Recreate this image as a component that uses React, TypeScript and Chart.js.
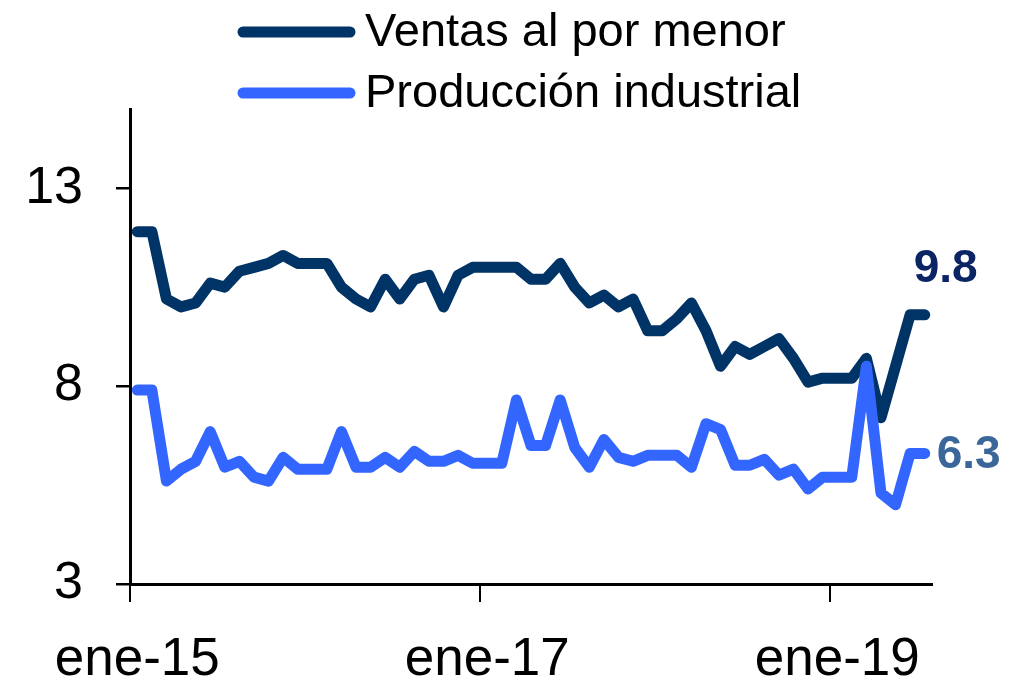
import React, { useEffect, useRef } from 'react';
import { Chart, registerables } from 'chart.js';

Chart.register(...registerables);

// Monthly categories, ene-15 .. jul-19
const categories: string[] = [
  'ene-15', 'feb-15', 'mar-15', 'abr-15', 'may-15', 'jun-15', 'jul-15', 'ago-15', 'sep-15', 'oct-15', 'nov-15', 'dic-15',
  'ene-16', 'feb-16', 'mar-16', 'abr-16', 'may-16', 'jun-16', 'jul-16', 'ago-16', 'sep-16', 'oct-16', 'nov-16', 'dic-16',
  'ene-17', 'feb-17', 'mar-17', 'abr-17', 'may-17', 'jun-17', 'jul-17', 'ago-17', 'sep-17', 'oct-17', 'nov-17', 'dic-17',
  'ene-18', 'feb-18', 'mar-18', 'abr-18', 'may-18', 'jun-18', 'jul-18', 'ago-18', 'sep-18', 'oct-18', 'nov-18', 'dic-18',
  'ene-19', 'feb-19', 'mar-19', 'abr-19', 'may-19', 'jun-19', 'jul-19',
];

const ventas: number[] = [
  11.9, 11.9, 10.2, 10.0, 10.1, 10.6, 10.5, 10.9, 11.0, 11.1, 11.3, 11.1,
  11.1, 11.1, 10.5, 10.2, 10.0, 10.7, 10.2, 10.7, 10.8, 10.0, 10.8, 11.0,
  11.0, 11.0, 11.0, 10.7, 10.7, 11.1, 10.5, 10.1, 10.3, 10.0, 10.2, 9.4,
  9.4, 9.7, 10.1, 9.4, 8.5, 9.0, 8.8, 9.0, 9.2, 8.7, 8.1, 8.2,
  8.2, 8.2, 8.7, 7.2, 8.5, 9.8, 9.8,
];

const produccion: number[] = [
  7.9, 7.9, 5.6, 5.9, 6.1, 6.85, 5.95, 6.1, 5.7, 5.6, 6.2, 5.9,
  5.9, 5.9, 6.85, 5.95, 5.95, 6.2, 5.95, 6.35, 6.1, 6.1, 6.25, 6.05,
  6.05, 6.05, 7.65, 6.5, 6.5, 7.65, 6.45, 5.95, 6.65, 6.2, 6.1, 6.25,
  6.25, 6.25, 5.95, 7.05, 6.9, 6.0, 6.0, 6.15, 5.75, 5.9, 5.4, 5.7,
  5.7, 5.7, 8.5, 5.3, 5.0, 6.3, 6.3,
];

const seriesNames: string[] = ['Ventas al por menor', 'Producción industrial'];
const xTickLabels: string[] = ['ene-15', 'ene-17', 'ene-19'];
const yTickValues: number[] = [3, 8, 13];
const yMin = 3;
const yMax = 15;

const NAVY = '#003366';
const BLUE = '#3366FF';
const LABEL_NAVY = '#0B2463';
const LABEL_STEEL = '#3B6699';
const FONT = "'Liberation Sans', Arial, sans-serif";

const legendPlugin = {
  id: 'customLegend',
  afterDraw(chart: any) {
    const ctx = chart.ctx;
    const rows = [32, 93];
    const colors = [NAVY, BLUE];
    ctx.save();
    seriesNames.forEach((name, i) => {
      const y = rows[i];
      ctx.strokeStyle = colors[i];
      ctx.lineWidth = 11;
      ctx.lineCap = 'round';
      ctx.beginPath();
      ctx.moveTo(243, y);
      ctx.lineTo(350, y);
      ctx.stroke();
      ctx.fillStyle = '#000';
      ctx.font = `47px ${FONT}`;
      ctx.textAlign = 'left';
      ctx.textBaseline = 'middle';
      ctx.fillText(name, 365, y + 1);
    });
    ctx.restore();
  },
};

const valueLabelPlugin = {
  id: 'valueLabels',
  afterDatasetsDraw(chart: any) {
    const ctx = chart.ctx;
    ctx.save();
    ctx.font = `bold 46px ${FONT}`;
    ctx.textBaseline = 'middle';
    const m0 = chart.getDatasetMeta(0);
    const p0 = m0.data[m0.data.length - 1];
    ctx.fillStyle = LABEL_NAVY;
    ctx.textAlign = 'center';
    ctx.fillText(ventas[ventas.length - 1].toFixed(1), p0.x + 21, p0.y - 46);
    const m1 = chart.getDatasetMeta(1);
    const p1 = m1.data[m1.data.length - 1];
    ctx.fillStyle = LABEL_STEEL;
    ctx.textAlign = 'left';
    ctx.fillText(produccion[produccion.length - 1].toFixed(1), p1.x + 12, p1.y + 2);
    ctx.restore();
  },
};

export default function App() {
  const ref = useRef<HTMLCanvasElement | null>(null);

  useEffect(() => {
    if (!ref.current) return;
    const chart = new Chart(ref.current, {
      type: 'line',
      data: {
        labels: categories,
        datasets: [
          {
            label: seriesNames[0],
            data: ventas,
            borderColor: NAVY,
            backgroundColor: NAVY,
            borderWidth: 11,
            pointRadius: 0,
            pointHoverRadius: 0,
            borderCapStyle: 'round',
            borderJoinStyle: 'round',
            tension: 0,
            order: 1,
          },
          {
            label: seriesNames[1],
            data: produccion,
            borderColor: BLUE,
            backgroundColor: BLUE,
            borderWidth: 11,
            pointRadius: 0,
            pointHoverRadius: 0,
            borderCapStyle: 'round',
            borderJoinStyle: 'round',
            tension: 0,
            order: 0,
          },
        ],
      },
      options: {
        animation: false,
        responsive: true,
        maintainAspectRatio: false,
        layout: { padding: { top: 109, right: 83, left: 0, bottom: 0 } },
        plugins: {
          legend: { display: false },
          tooltip: { enabled: false },
        },
        scales: {
          x: {
            type: 'category',
            offset: true,
            afterFit: (scale: any) => {
              scale.height = 102;
            },
            grid: {
              offset: true,
              drawOnChartArea: false,
              drawTicks: true,
              tickLength: 18,
              lineWidth: 2,
              color: (c: any) =>
                c && typeof c.index === 'number' && xTickLabels.includes(categories[c.index])
                  ? '#000'
                  : 'rgba(0,0,0,0)',
            },
            border: { display: true, color: '#000', width: 3 },
            ticks: {
              autoSkip: false,
              maxRotation: 0,
              minRotation: 0,
              padding: 27,
              color: '#000',
              font: { family: FONT, size: 53 },
              callback: (_v: any, i: number) => (xTickLabels.includes(categories[i]) ? categories[i] : ''),
            },
          },
          y: {
            type: 'linear',
            min: yMin,
            max: yMax,
            afterFit: (scale: any) => {
              scale.width = 130;
            },
            afterBuildTicks: (scale: any) => {
              scale.ticks = yTickValues.map((v) => ({ value: v }));
            },
            grid: {
              drawOnChartArea: false,
              drawTicks: true,
              tickLength: 14,
              lineWidth: 2.5,
              color: '#000',
            },
            border: { display: true, color: '#000', width: 3 },
            ticks: {
              padding: 33,
              color: '#000',
              font: { family: FONT, size: 52 },
              callback: (v: any) => String(v),
            },
          },
        },
      },
      plugins: [legendPlugin, valueLabelPlugin],
    } as any);
    return () => chart.destroy();
  }, []);

  return (
    <div style={{ position: 'fixed', left: 0, top: 0, width: 1015, height: 686, background: '#fff' }}>
      <canvas ref={ref} />
    </div>
  );
}
